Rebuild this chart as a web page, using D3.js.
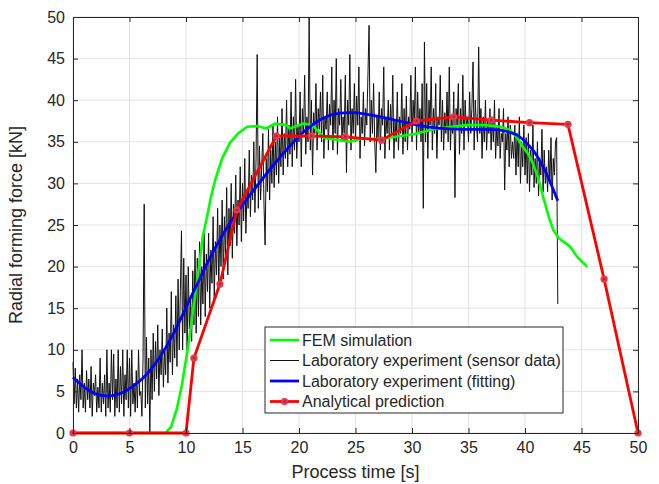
<!DOCTYPE html>
<meta charset="utf-8">
<script src="https://d3js.org/d3.v7.min.js"></script>
<style>
  body { margin: 0; background: #fff; }
  text { font-family: Arial, "Liberation Sans", Helvetica, sans-serif; fill: #262626; }
</style>
<div id="my_dataviz"></div>
<script>
// sensor data, one value every 0.1 s from t = 0
var sensorStep = 0.1;
var sensorData = [
  8.5, 3.5, 7.8, 3, 6.5, 2.5, 7, 4, 10, 3,
  6, 2.5, 7.5, 4, 6.5, 3, 8, 2, 6, 4.5,
  7, 2.5, 5.5, 3, 9, 2.5, 6, 3.5, 7, 2,
  10, 3, 6, 2.5, 10, 4, 9.5, 2, 6.5, 3,
  10, 2.5, 8, 3.5, 10, 2, 7, 4, 10, 3,
  9, 2, 10, 3.5, 6, 2.5, 7.5, 3, 10, 4.5,
  5, 2, 9, 27.5, 3, 11.5, 3.5, 9, 0, 10,
  4, 12, 5, 11, 6.5, 13, 4.5, 10, 7, 12.5,
  5.5, 10, 7, 15, 6, 12, 8.5, 17, 7, 13,
  9, 16.5, 8, 18.5, 10, 17, 24.3, 10, 21, 12,
  19, 10, 20, 12.5, 16, 11, 19.5, 13, 22, 12,
  21, 14, 23, 13, 20, 15.5, 24, 14, 21.5, 17,
  24, 15, 22, 18, 26, 16, 23, 19, 27, 17.5,
  25, 20, 28, 18.5, 26, 21, 29.5, 19, 27, 22.5,
  30, 21, 27.5, 24, 31, 22.5, 28, 25, 32, 23,
  30, 25.5, 33, 24, 29, 27, 34, 26, 31, 28,
  35, 26.5, 33, 45.5, 27, 34.5, 28, 32, 36, 27.5,
  22.6, 33, 29, 36.5, 28, 34, 30, 37, 29.5, 35,
  31, 38, 30, 35.5, 32, 39, 31, 36, 33, 40,
  32, 37, 33.5, 41, 32, 38, 34, 42.5, 33, 37,
  35, 41, 32, 39, 36, 43, 33.5, 38, 35, 50,
  34, 40, 31, 38.5, 36, 42, 34, 39, 36.5, 41,
  35, 43, 33, 38, 36.5, 41, 34, 39.5, 37, 44,
  34, 40, 36, 45, 33.5, 39, 37, 42.5, 35, 38,
  36, 43, 31.3, 40, 37, 45.5, 34, 39, 36, 42,
  35, 40.5, 37, 44, 33, 38, 36, 41, 34.5, 39,
  37, 43, 49, 35, 40, 36, 42, 35, 31.3, 38,
  35.5, 41, 34, 39, 37, 44, 33, 38, 36, 40,
  34, 39.5, 36, 43, 33, 37.5, 35, 41, 34, 38,
  36, 42, 33.5, 39, 35, 40.5, 34, 38, 36.5, 43,
  35, 40, 37, 44, 34, 41, 36, 39, 35, 42,
  27, 47, 35, 42, 33, 40, 37, 44, 34, 39,
  36, 42, 33, 38, 37, 43, 35, 40, 34, 38.5,
  36, 41, 35, 44, 34, 38, 36, 41, 28.3, 39,
  37, 42, 33.5, 39, 36, 43, 34, 40, 37, 38,
  35, 41, 36, 39, 44.6, 34, 40, 37, 35, 46.4,
  36, 39, 33, 38, 35, 40, 34, 37.5, 36, 39,
  34, 38, 35, 40, 33, 37, 34.5, 39, 33, 36,
  35, 39, 29.2, 36, 34, 38, 32, 37, 33, 35,
  33, 37, 31, 36, 32, 38, 30, 35, 32, 37,
  31, 35.5, 30, 36, 29, 34, 31, 37, 29.5, 33,
  30, 35, 28.5, 33, 31, 36.5, 29, 34, 30, 32,
  29, 34, 30, 35.5, 28, 33, 31, 35, 35.5, 15.5
];

// FEM simulation
var femTime  = [0, 8.2, 8.7, 9.2, 9.6, 9.9, 10.2, 10.6, 10.9, 11.2, 11.5, 11.8, 12.2, 12.6, 13.2, 13.9, 14.6, 15.4, 16.3, 17.1, 17.9, 18.9, 19.2, 20.4, 21.2, 22.2, 23, 24.5, 25.5, 27.2, 28.5, 30.1, 31.9, 33, 34.8, 36.5, 37.8, 38.7, 39.3, 39.8, 40.3, 40.7, 41.2, 41.6, 42.1, 42.5, 43.0, 43.4, 44.0, 44.6, 45.5];
var femForce = [0, 0, 0.8, 3, 5.5, 8, 10.5, 14.4, 17.5, 20.5, 23.8, 25.6, 28.3, 30.5, 33, 34.9, 36, 36.8, 36.9, 36.6, 37.2, 37.0, 36.6, 37.2, 37, 35.5, 35.3, 35.0, 35.4, 35.3, 35.6, 35.9, 36.5, 36.7, 37.0, 37, 36.8, 36.4, 35.5, 34.4, 33.5, 32.4, 30.5, 28.4, 26, 24.4, 23.4, 23, 22.4, 21.2, 20.0];

// fitting of the laboratory data
var fitTime  = [0, 1, 2, 3.3, 4.3, 5.3, 6.2, 7.1, 8.6, 10.6, 12.1, 13.6, 15.0, 16.4, 17.8, 19.2, 20.5, 21.8, 23.0, 24.8, 27.2, 29.5, 31.9, 34.8, 37.8, 39.3, 40.7, 41.6, 42.4, 42.9];
var fitForce = [6.7, 5.5, 4.7, 4.45, 4.8, 5.6, 6.6, 8.0, 11.2, 16.8, 21.0, 24.6, 27.4, 29.9, 32.3, 34.5, 36.3, 37.6, 38.3, 38.5, 38.0, 37.3, 36.7, 36.5, 36.4, 35.8, 34.0, 32.0, 29.6, 27.9];

// analytical prediction
var anaTime  = [0, 5, 10, 10.7, 13, 14.5, 18, 21.1, 24.1, 27.3, 30.4, 33.7, 37, 40.4, 43.8, 47, 50];
var anaForce = [0, 0, 0, 9, 17.9, 26.8, 35.7, 35.7, 35.6, 35.2, 37.5, 38, 37.6, 37.3, 37.1, 18.5, 0];

var ticks = [0, 5, 10, 15, 20, 25, 30, 35, 40, 45, 50];
var legendLabels = ["FEM simulation", "Laboratory experiment (sensor data)", "Laboratory experiment (fitting)", "Analytical prediction"];

var margin = { top: 17, right: 21, bottom: 51, left: 73 },
    width = 659 - margin.left - margin.right,
    height = 484 - margin.top - margin.bottom;

var svg = d3.select("#my_dataviz")
  .append("svg")
  .attr("width", 659)
  .attr("height", 484)
  .append("g")
  .attr("transform", "translate(" + margin.left + "," + margin.top + ")");

var x = d3.scaleLinear().domain([0, 50]).range([0, width]);
var y = d3.scaleLinear().domain([0, 50]).range([height, 0]);

// grid
svg.append("g").selectAll("line").data(ticks).enter().append("line")
  .attr("x1", d => x(d)).attr("x2", d => x(d))
  .attr("y1", 0).attr("y2", height)
  .attr("stroke", "#e3e3e3").attr("stroke-width", 1);
svg.append("g").selectAll("line").data(ticks).enter().append("line")
  .attr("y1", d => y(d)).attr("y2", d => y(d))
  .attr("x1", 0).attr("x2", width)
  .attr("stroke", "#e3e3e3").attr("stroke-width", 1);

// data lines
function pts(xs, ys) { return xs.map((t, i) => [t, ys[i]]); }
var line = d3.line().x(d => x(d[0])).y(d => y(d[1]));

svg.append("path")
  .datum(sensorData.map((v, i) => [i * sensorStep, v]))
  .attr("d", line)
  .attr("fill", "none").attr("stroke", "#111").attr("stroke-width", 1);

svg.append("path")
  .datum(pts(femTime, femForce))
  .attr("d", line)
  .attr("fill", "none").attr("stroke", "#00ff00").attr("stroke-width", 2.6)
  .attr("stroke-linejoin", "round");

svg.append("path")
  .datum(pts(fitTime, fitForce))
  .attr("d", d3.line().x(d => x(d[0])).y(d => y(d[1])).curve(d3.curveCatmullRom.alpha(0.5)))
  .attr("fill", "none").attr("stroke", "#0000ff").attr("stroke-width", 2.8);

var ana = pts(anaTime, anaForce);
svg.append("path")
  .datum(ana)
  .attr("d", line)
  .attr("fill", "none").attr("stroke", "#ff0000").attr("stroke-width", 2.8)
  .attr("stroke-linejoin", "round");
svg.append("g").selectAll("circle").data(ana).enter().append("circle")
  .attr("cx", d => x(d[0])).attr("cy", d => y(d[1]))
  .attr("r", 3.6).attr("fill", "#ff3030");
svg.append("g").selectAll("circle").data(ana).enter().append("circle")
  .attr("cx", d => x(d[0])).attr("cy", d => y(d[1]))
  .attr("r", 1.2).attr("fill", "#4040c0");

// axes with inward ticks on all sides
function styleAxis(g) {
  g.select(".domain").attr("stroke", "#262626");
  g.selectAll(".tick line").attr("stroke", "#262626");
  g.selectAll(".tick text").attr("font-size", "16px").attr("fill", "#262626")
    .attr("font-family", "Arial, 'Liberation Sans', sans-serif");
}
svg.append("g").attr("transform", "translate(0," + height + ")")
  .call(d3.axisBottom(x).tickValues(ticks).tickSizeInner(-5).tickSizeOuter(0).tickPadding(9))
  .call(styleAxis);
svg.append("g")
  .call(d3.axisTop(x).tickValues(ticks).tickSizeInner(-5).tickSizeOuter(0).tickFormat(""))
  .call(styleAxis);
svg.append("g")
  .call(d3.axisLeft(y).tickValues(ticks).tickSizeInner(-5).tickSizeOuter(0).tickPadding(8))
  .call(styleAxis);
svg.append("g").attr("transform", "translate(" + width + ",0)")
  .call(d3.axisRight(y).tickValues(ticks).tickSizeInner(-5).tickSizeOuter(0).tickFormat(""))
  .call(styleAxis);

// axis labels
svg.append("text")
  .attr("x", width / 2).attr("y", height + 45)
  .attr("text-anchor", "middle").attr("font-size", "18px")
  .text("Process time [s]");
svg.append("text")
  .attr("transform", "translate(-51," + (height / 2) + ") rotate(-90)")
  .attr("text-anchor", "middle").attr("font-size", "18px")
  .text("Radial forming force [kN]");

// legend
var lg = svg.append("g").attr("transform", "translate(" + (265 - margin.left) + "," + (327 - margin.top) + ")");
lg.append("rect").attr("width", 298).attr("height", 86)
  .attr("fill", "#fff").attr("stroke", "#262626").attr("stroke-width", 1);
var legendStyle = [
  { color: "#00ff00", w: 2.6, marker: false },
  { color: "#111", w: 1, marker: false },
  { color: "#0000ff", w: 2.8, marker: false },
  { color: "#ff0000", w: 2.8, marker: true }
];
legendLabels.forEach(function (lab, i) {
  var yy = 13 + i * 20.5;
  lg.append("line").attr("x1", 5).attr("x2", 34).attr("y1", yy).attr("y2", yy)
    .attr("stroke", legendStyle[i].color).attr("stroke-width", legendStyle[i].w);
  if (legendStyle[i].marker) {
    lg.append("circle").attr("cx", 19.5).attr("cy", yy).attr("r", 3.6).attr("fill", "#ff3030");
    lg.append("circle").attr("cx", 19.5).attr("cy", yy).attr("r", 1.2).attr("fill", "#4040c0");
  }
  lg.append("text").attr("x", 37).attr("y", yy).attr("dy", "0.35em")
    .attr("font-size", "16px").text(lab);
});
</script>
